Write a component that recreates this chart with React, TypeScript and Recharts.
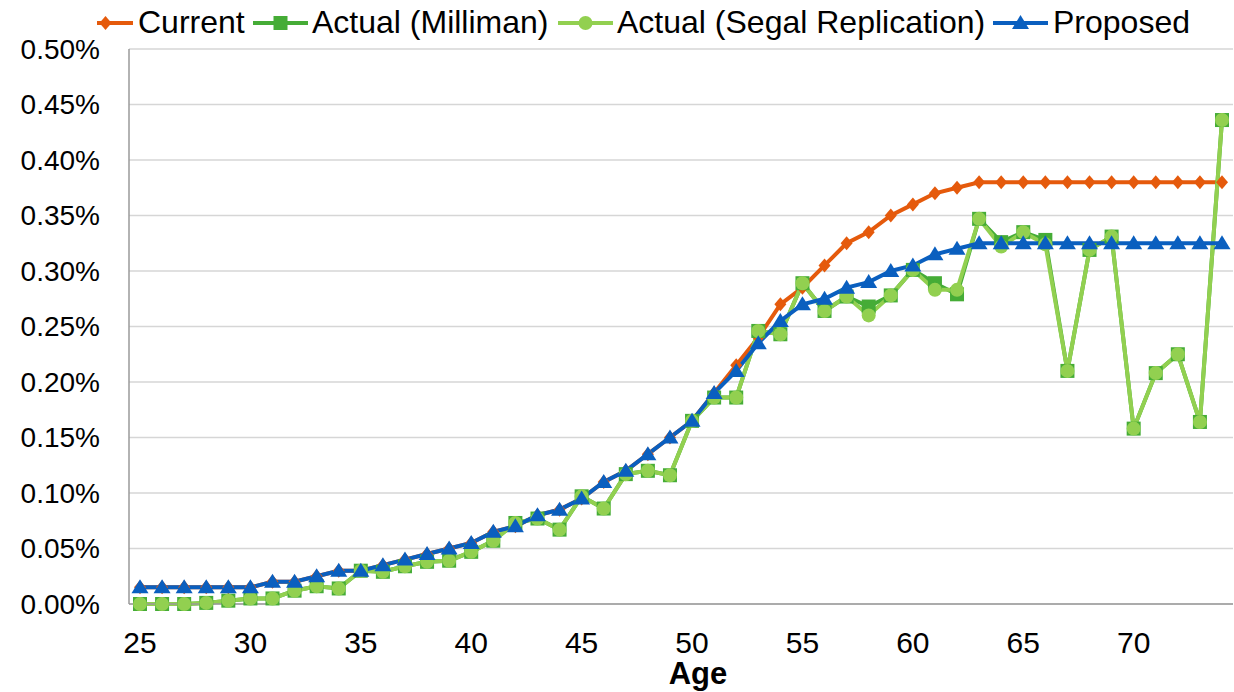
import React from 'react';
import { LineChart, Line, XAxis, YAxis, CartesianGrid, Label } from 'recharts';

// ages 25..74
const ages = [
  25, 26, 27, 28, 29, 30, 31, 32, 33, 34, 35, 36, 37, 38, 39, 40, 41, 42, 43, 44, 45, 46, 47, 48, 49,
  50, 51, 52, 53, 54, 55, 56, 57, 58, 59, 60, 61, 62, 63, 64, 65, 66, 67, 68, 69, 70, 71, 72, 73, 74,
];

// rates in percent
const current = [
  0.015, 0.015, 0.015, 0.015, 0.015, 0.015, 0.02, 0.02, 0.025, 0.03, 0.03, 0.035, 0.04, 0.045, 0.05, 0.055,
  0.065, 0.07, 0.08, 0.085, 0.095, 0.11, 0.12, 0.135, 0.15, 0.165, 0.19, 0.215, 0.24, 0.27, 0.285, 0.305,
  0.325, 0.335, 0.35, 0.36, 0.37, 0.375, 0.38, 0.38, 0.38, 0.38, 0.38, 0.38, 0.38, 0.38, 0.38, 0.38, 0.38, 0.38,
];

const milliman = [
  0.0, 0.0, 0.0, 0.001, 0.003, 0.005, 0.005, 0.012, 0.016, 0.014, 0.03, 0.029, 0.034, 0.038, 0.039, 0.047,
  0.057, 0.073, 0.077, 0.067, 0.097, 0.086, 0.117, 0.12, 0.116, 0.165, 0.186, 0.186, 0.246, 0.243, 0.289, 0.264,
  0.277, 0.268, 0.278, 0.301, 0.289, 0.279, 0.347, 0.326, 0.335, 0.328, 0.21, 0.319, 0.331, 0.158, 0.208, 0.225,
  0.164, 0.436,
];

const segal = [
  0.0, 0.0, 0.0, 0.001, 0.003, 0.005, 0.005, 0.012, 0.016, 0.014, 0.03, 0.029, 0.034, 0.038, 0.039, 0.047,
  0.057, 0.073, 0.077, 0.067, 0.097, 0.086, 0.117, 0.12, 0.116, 0.165, 0.186, 0.186, 0.246, 0.243, 0.289, 0.264,
  0.277, 0.26, 0.278, 0.301, 0.283, 0.283, 0.347, 0.322, 0.335, 0.324, 0.21, 0.319, 0.331, 0.158, 0.208, 0.225,
  0.164, 0.436,
];

const proposed = [
  0.015, 0.015, 0.015, 0.015, 0.015, 0.015, 0.02, 0.02, 0.025, 0.03, 0.03, 0.035, 0.04, 0.045, 0.05, 0.055,
  0.065, 0.07, 0.08, 0.085, 0.095, 0.11, 0.12, 0.135, 0.15, 0.165, 0.19, 0.21, 0.235, 0.255, 0.27, 0.275,
  0.285, 0.29, 0.3, 0.305, 0.315, 0.32, 0.325, 0.325, 0.325, 0.325, 0.325, 0.325, 0.325, 0.325, 0.325, 0.325,
  0.325, 0.325,
];

const yTicks = [0, 0.05, 0.1, 0.15, 0.2, 0.25, 0.3, 0.35, 0.4, 0.45, 0.5];

const data = ages.map((age, i) => ({
  age,
  current: current[i],
  milliman: milliman[i],
  segal: segal[i],
  proposed: proposed[i],
}));

const ORANGE = '#E55A0C';
const DARK_GREEN = '#45AC36';
const LIGHT_GREEN = '#92D050';
const BLUE = '#0A5FBF';
const FONT = '"Liberation Sans", Arial, sans-serif';

const diamond = (cx: number, cy: number, fill: string, key?: string) => (
  <path key={key} d={`M${cx},${cy - 7}L${cx + 6},${cy}L${cx},${cy + 7}L${cx - 6},${cy}Z`} fill={fill} />
);
const square = (cx: number, cy: number, fill: string, key?: string) => (
  <rect key={key} x={cx - 7} y={cy - 7} width={14} height={14} fill={fill} />
);
const circle = (cx: number, cy: number, fill: string, key?: string) => (
  <circle key={key} cx={cx} cy={cy} r={7} fill={fill} />
);
const triangle = (cx: number, cy: number, fill: string, key?: string) => (
  <path key={key} d={`M${cx},${cy - 8}L${cx + 8.5},${cy + 6}L${cx - 8.5},${cy + 6}Z`} fill={fill} />
);

const dotFn =
  (shape: typeof diamond, fill: string, name: string) =>
  (p: any) =>
    shape(p.cx, p.cy, fill, `${name}-${p.index}`);

const legendItems = [
  { label: 'Current', color: ORANGE, shape: diamond, lineX: 78, textX: 138 },
  { label: 'Actual (Milliman)', color: DARK_GREEN, shape: square, lineX: 253, textX: 312 },
  { label: 'Actual (Segal Replication)', color: LIGHT_GREEN, shape: circle, lineX: 558, textX: 617 },
  { label: 'Proposed', color: BLUE, shape: triangle, lineX: 993, textX: 1053 },
];

const LegendBar = () => (
  <svg width={1234} height={46} style={{ position: 'absolute', left: 0, top: 0 }}>
    <defs>
      <clipPath id="legend-clip">
        <rect x={97} y={0} width={1137} height={46} />
      </clipPath>
    </defs>
    <g clipPath="url(#legend-clip)">
      {legendItems.map((it) => (
        <g key={it.label}>
          <line x1={it.lineX} x2={it.lineX + 55} y1={23} y2={23} stroke={it.color} strokeWidth={4} />
          {it.shape(it.lineX + 27.5, 23, it.color)}
          <text x={it.textX} y={33} fontFamily={FONT} fontSize={32} fill="#000">
            {it.label}
          </text>
        </g>
      ))}
    </g>
  </svg>
);

export default function App() {
  return (
    <div style={{ position: 'absolute', left: 0, top: 0, width: 1234, height: 692, background: '#fff' }}>
      <LineChart width={1234} height={692} data={data} margin={{ top: 49, right: 1, bottom: 0, left: 0 }}>
        <CartesianGrid vertical={false} stroke="#D6D6D6" strokeWidth={1.5} />
        <XAxis
          dataKey="age"
          type="category"
          interval={4}
          height={88}
          padding={{ left: 11, right: 11 }}
          tickLine={false}
          tickSize={0}
          tickMargin={28}
          axisLine={{ stroke: '#9A9A9A', strokeWidth: 1.5 }}
          tick={{ fill: '#000', fontSize: 30, fontFamily: FONT }}
        >
          <Label
            value="Age"
            position="insideBottom"
            offset={8}
            dx={17}
            style={{ fill: '#000', fontSize: 31, fontWeight: 'bold', fontFamily: FONT }}
          />
        </XAxis>
        <YAxis
          domain={[0, 0.5]}
          ticks={yTicks}
          width={129}
          tickLine={false}
          tickSize={0}
          tickMargin={29}
          axisLine={{ stroke: '#9A9A9A', strokeWidth: 1.5 }}
          tickFormatter={(v: number) => `${v.toFixed(2)}%`}
          tick={{ fill: '#000', fontSize: 28, fontFamily: FONT }}
        />
        <Line
          dataKey="current"
          stroke={ORANGE}
          strokeWidth={4}
          dot={dotFn(diamond, ORANGE, 'cur')}
          activeDot={false}
          isAnimationActive={false}
        />
        <Line
          dataKey="milliman"
          stroke={DARK_GREEN}
          strokeWidth={4}
          dot={dotFn(square, DARK_GREEN, 'mil')}
          activeDot={false}
          isAnimationActive={false}
        />
        <Line
          dataKey="segal"
          stroke={LIGHT_GREEN}
          strokeWidth={4}
          dot={dotFn(circle, LIGHT_GREEN, 'seg')}
          activeDot={false}
          isAnimationActive={false}
        />
        <Line
          dataKey="proposed"
          stroke={BLUE}
          strokeWidth={4}
          dot={dotFn(triangle, BLUE, 'pro')}
          activeDot={false}
          isAnimationActive={false}
        />
      </LineChart>
      <LegendBar />
    </div>
  );
}
